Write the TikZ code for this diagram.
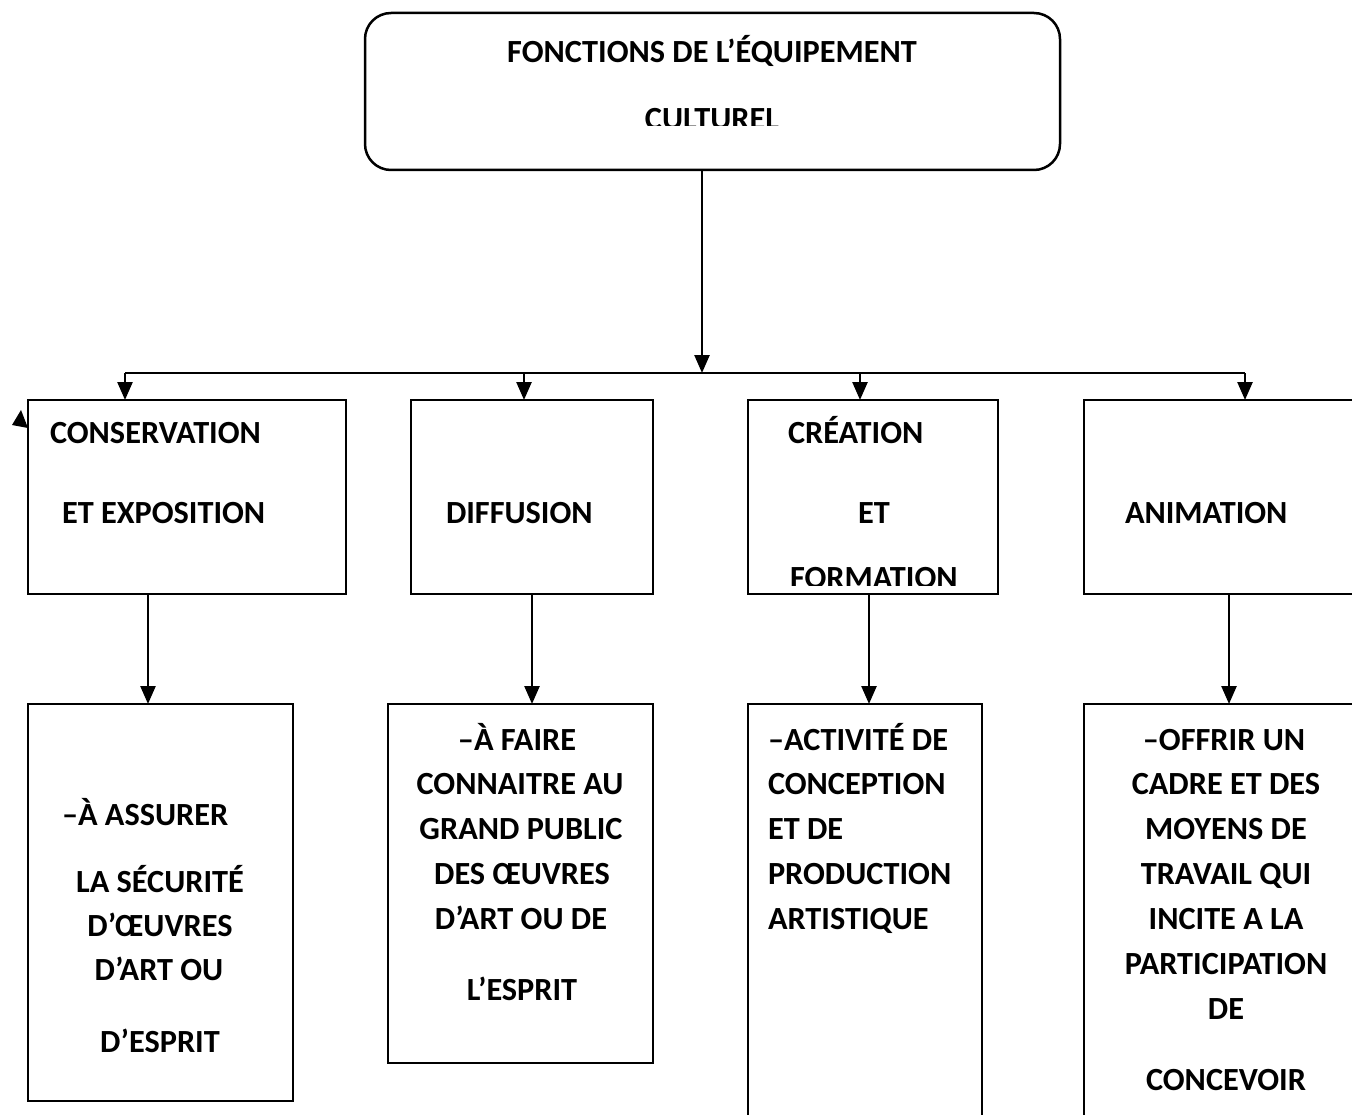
\documentclass[tikz,border=0pt]{standalone}
\usepackage{fontspec}
\setmainfont{Carlito}
\usetikzlibrary{arrows.meta}
\tikzset{
  boxnode/.style={draw, line width=2.5pt, inner sep=0pt, outer sep=0pt, anchor=north west},
  lbl/.style={inner sep=0pt, outer sep=0pt, font=\fontsize{32.3}{38}\selectfont\bfseries},
  lblw/.style={lbl, anchor=base west},
  lblc/.style={lbl, anchor=base},
  conn/.style={line width=2.5pt},
  arr/.style={line width=2.5pt, -{Triangle[length=18pt,width=15pt]}}
}
\begin{document}
\begin{tikzpicture}[x=1pt,y=-1pt]
\useasboundingbox (0,0) rectangle (1352,1115);
% top box
\node[boxnode, rounded corners=26pt, minimum width=695pt, minimum height=157pt] (top) at (365,13) {};
\node[lblc] (t1) at (712,63) {FONCTIONS DE L’ÉQUIPEMENT};
\begin{scope}
\clip (370,80) rectangle (1055,126);
\node[lblc] (t2) at (712,130) {CULTUREL};
\end{scope}
% upper boxes
\node[boxnode, minimum width=318pt, minimum height=194pt] (b1) at (28,400) {};
\node[boxnode, minimum width=242pt, minimum height=194pt] (b2) at (411,400) {};
\node[boxnode, minimum width=250pt, minimum height=194pt] (b3) at (748,400) {};
\node[boxnode, minimum width=300pt, minimum height=194pt] (b4) at (1084,400) {};
% lower boxes
\node[boxnode, minimum width=265pt, minimum height=397pt] (c1) at (28,704) {};
\node[boxnode, minimum width=265pt, minimum height=359pt] (c2) at (388,704) {};
\node[boxnode, minimum width=234pt, minimum height=440pt] (c3) at (748,704) {};
\node[boxnode, minimum width=300pt, minimum height=440pt] (c4) at (1084,704) {};
% labels upper
\node[lblw] (l11) at (50,443) {CONSERVATION};
\node[lblw] (l12) at (62,523) {ET EXPOSITION};
\node[lblw] (l21) at (446,523) {DIFFUSION};
\node[lblw] (l31) at (788,443) {CRÉATION};
\node[lblc] (l32) at (874,523) {ET};
\begin{scope}
\clip (750,540) rectangle (995,585);
\node[lblw] (l33) at (790,588) {FORMATION};
\end{scope}
\node[lblw] (l41) at (1125,523) {ANIMATION};
% labels lower
\node[lblw] (m11) at (62,825) {–À ASSURER};
\node[lblc] (m12) at (160,892) {LA SÉCURITÉ};
\node[lblc] (m13) at (160,936) {D’ŒUVRES};
\node[lblc] (m14) at (159,980) {D’ART OU};
\node[lblc] (m15) at (160,1052) {D’ESPRIT};
\node[lblc] (m21) at (517,750) {–À FAIRE};
\node[lblc] (m22) at (520,794) {CONNAITRE AU};
\node[lblc] (m23) at (521,839) {GRAND PUBLIC};
\node[lblc] (m24) at (522,884) {DES ŒUVRES};
\node[lblc] (m25) at (521,929) {D’ART OU DE};
\node[lblc] (m26) at (522,1000) {L’ESPRIT};
\node[lblw] (m31) at (768,750) {–ACTIVITÉ DE};
\node[lblw] (m32) at (768,794) {CONCEPTION};
\node[lblw] (m33) at (768,839) {ET DE};
\node[lblw] (m34) at (768,884) {PRODUCTION};
\node[lblw] (m35) at (768,929) {ARTISTIQUE};
\node[lblc] (m41) at (1224,750) {–OFFRIR UN};
\node[lblc] (m42) at (1226,794) {CADRE ET DES};
\node[lblc] (m43) at (1226,839) {MOYENS DE};
\node[lblc] (m44) at (1226,884) {TRAVAIL QUI};
\node[lblc] (m45) at (1226,929) {INCITE A LA};
\node[lblc] (m46) at (1226,974) {PARTICIPATION};
\node[lblc] (m47) at (1226,1019) {DE};
\node[lblc] (m48) at (1226,1090) {CONCEVOIR};
% connectors
\coordinate (j) at (702,373);
\coordinate (d1) at (125,373);
\coordinate (d2) at (524,373);
\coordinate (d3) at (860,373);
\coordinate (d4) at (1245,373);
\draw[arr] (top.south -| j) -- (j);
\draw[conn] (d1) -- (d4);
\draw[arr] (d1) -- (d1 |- b1.north);
\draw[arr] (d2) -- (d2 |- b2.north);
\draw[arr] (d3) -- (d3 |- b3.north);
\draw[arr] (d4) -- (d4 |- b4.north);
\coordinate (e1) at (148,0);
\coordinate (e2) at (532,0);
\coordinate (e3) at (869,0);
\coordinate (e4) at (1229,0);
\draw[arr] (e1 |- b1.south) -- (e1 |- c1.north);
\draw[arr] (e2 |- b2.south) -- (e2 |- c2.north);
\draw[arr] (e3 |- b3.south) -- (e3 |- c3.north);
\draw[arr] (e4 |- b4.south) -- (e4 |- c4.north);
% stray arrowhead
\fill (12,425) -- (28,428) -- (21,410) -- cycle;
\end{tikzpicture}
\end{document}
